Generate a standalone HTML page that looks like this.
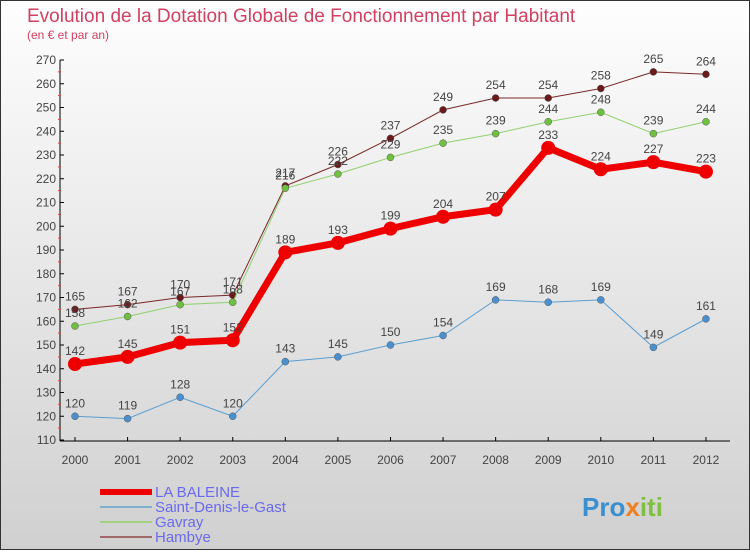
<!DOCTYPE html>
<html><head><meta charset="utf-8"><style>
body{margin:0;width:750px;height:550px;overflow:hidden;font-family:"Liberation Sans",sans-serif}
</style></head><body>
<svg width="750" height="550" xmlns="http://www.w3.org/2000/svg">
<defs><linearGradient id="bg" x1="0" y1="0" x2="0" y2="1"><stop offset="0" stop-color="#fefefe"/><stop offset="1" stop-color="#d0d0d0"/></linearGradient></defs>
<rect x="0.5" y="0.5" width="749" height="549" fill="url(#bg)" stroke="#333"/>
<text x="27" y="22" font-size="19" fill="#d04060">Evolution de la Dotation Globale de Fonctionnement par Habitant</text>
<text x="27" y="39" font-size="12" fill="#d04060">(en € et par an)</text>
<g id="axes"></g>
<g id="series"></g>
<g id="legend"></g>
<text x="582" y="516" font-size="26" font-weight="bold" fill="#3a8fd0">Pro<tspan fill="#f08020">x</tspan><tspan fill="#80c040">iti</tspan></text>
</svg>
<script>
const years=["2000","2001","2002","2003","2004","2005","2006","2007","2008","2009","2010","2011","2012"];
const yTicks=[110,120,130,140,150,160,170,180,190,200,210,220,230,240,250,260,270];
const laBaleine=[142,145,151,152,189,193,199,204,207,233,224,227,223];
const saintDenis=[120,119,128,120,143,145,150,154,169,168,169,149,161];
const gavray=[158,162,167,168,216,222,229,235,239,244,248,239,244];
const hambye=[165,167,170,171,217,226,237,249,254,254,258,265,264];
const NS="http://www.w3.org/2000/svg";
const xs=i=>75+i*52.58;
const ys=v=>440-(v-110)*2.375;
function mk(tag,attrs,parent){const e=document.createElementNS(NS,tag);for(const k in attrs)e.setAttribute(k,attrs[k]);parent.appendChild(e);return e;}
const ax=document.getElementById('axes');
let l=mk('line',{x1:60,y1:60,x2:60,y2:441,stroke:'#000'},ax);


l=mk('line',{x1:60,y1:441,x2:730,y2:441,stroke:'#000'},ax);


yTicks.forEach(v=>{
 mk('line',{x1:60,y1:ys(v),x2:64,y2:ys(v),stroke:'#000'},ax);
 if(v<270)mk('line',{x1:58,y1:ys(v+5),x2:61,y2:ys(v+5),stroke:'#e04040'},ax);
 const t=mk('text',{x:56,y:ys(v)+4,'font-size':12,'text-anchor':'end',fill:'#444'},ax);
 t.textContent=v;
 
 
});
years.forEach((y,i)=>{
 mk('line',{x1:xs(i),y1:437,x2:xs(i),y2:441,stroke:'#000'},ax);
 const t=mk('text',{x:xs(i),y:464,'font-size':12,'text-anchor':'middle',fill:'#444'},ax);
 t.textContent=y;
 
 
});
const sg=document.getElementById('series');
const series=[
 {name:'hambye',data:hambye,c:'#7a2828',m:'#6a1a1a',w:1,r:3.5},
 {name:'gavray',data:gavray,c:'#90d070',m:'#70c040',w:1,r:3.5},
 {name:'saint-denis-le-gast',data:saintDenis,c:'#5a9ed0',m:'#4a90d0',w:1,r:3.5},
 {name:'la-baleine',data:laBaleine,c:'#ee0000',m:'#ee0000',w:7,r:7}
];
series.forEach(s=>{
 const p=mk('polyline',{points:s.data.map((v,i)=>xs(i)+','+ys(v)).join(' '),fill:'none',stroke:s.c,'stroke-width':s.w},sg);
 
 
 s.data.forEach((v,i)=>{
  const c=mk('circle',{cx:xs(i),cy:ys(v),r:s.r,fill:s.m,stroke:s.w>1?'none':'#555','stroke-width':0.5},sg);
  
  
  const t=mk('text',{x:xs(i),y:ys(v)-9,'font-size':12,'text-anchor':'middle',fill:'#444'},sg);
  t.textContent=v;
  
  
 });
});
const lg=document.getElementById('legend');
const leg=[['LA BALEINE','#ee0000',6],['Saint-Denis-le-Gast','#80b0d0',2],['Gavray','#a0d080',2],['Hambye','#a06868',2]];
leg.forEach((e,i)=>{
 const y=492+i*15;
 const r=mk('rect',{x:100,y:y-e[2]/2,width:52,height:e[2],fill:e[1]},lg);
 
 
 const t=mk('text',{x:155,y:y+5,'font-size':15,fill:'#6a6aee'},lg);
 t.textContent=e[0];
 
 
});
</script>
</body></html>
